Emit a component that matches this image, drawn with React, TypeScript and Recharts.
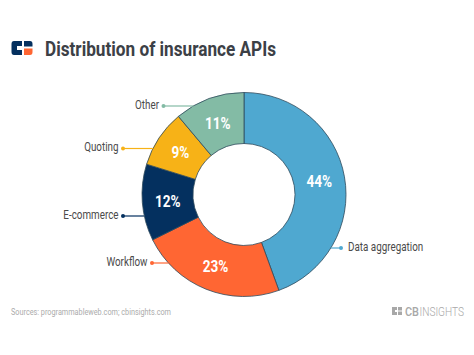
import { PieChart, Pie, Cell } from "recharts";

const categories = ["Data aggregation", "Workflow", "E-commerce", "Quoting", "Other"];
const shares = [44, 23, 12, 9, 11];
const colors = ["#4FA8D0", "#FF6633", "#04305F", "#F7B217", "#83BBA5"];

const tableData = categories.map((name, i) => ({ name, value: shares[i] }));

// height of each leader line, the source chart doesn't put them on the slice midpoint
const leaderY: Record<string, number> = {
  "Data aggregation": 248,
  Workflow: 263,
  "E-commerce": 216,
  Quoting: 148.5,
  Other: 106,
};
const leaderDot: Record<string, number> = {
  "Data aggregation": 341,
  Workflow: 152,
  "E-commerce": 123,
  Quoting: 123,
  Other: 163.5,
};

const CX = 244;
const CY = 194.5;
const OUTER = 102;
const INNER = 51;
const FONT = "Roboto, sans-serif";

function SliceLabel(props: any) {
  const { midAngle, name, value, index } = props;
  const rad = (midAngle * Math.PI) / 180;
  const r = (INNER + OUTER) / 2;
  const x = CX + r * Math.cos(rad);
  const y = CY - r * Math.sin(rad);

  const ly = leaderY[name];
  const dot = leaderDot[name];
  const dy = ly - CY;
  const edge = Math.sqrt(OUTER * OUTER - dy * dy);
  const rightSide = dot > CX;
  const lineEnd = rightSide ? CX + edge : CX - edge;
  const textX = rightSide ? dot + 7 : dot - 4.5;

  return (
    <g>
      <line x1={dot} y1={ly} x2={lineEnd} y2={ly} stroke={colors[index]} strokeWidth={1.2} />
      <circle cx={dot} cy={ly} r={2} fill={colors[index]} />
      <text
        transform={`translate(${textX} ${ly + 2.5}) scale(0.82 1)`}
        textAnchor={rightSide ? "start" : "end"}
        fontFamily={FONT}
        fontSize={12}
        fill="#4A4A4A"
      >
        {name}
      </text>
      <text
        transform={`translate(${x} ${y + 6}) scale(0.8 1)`}
        textAnchor="middle"
        fontFamily={FONT}
        fontWeight={700}
        fontSize={17}
        fill="#FFFFFF"
      >
        {value}%
      </text>
    </g>
  );
}

export default function App() {
  return (
    <div style={{ position: "fixed", left: 0, top: 0, width: 474, height: 355, background: "#fff" }}>
      <PieChart width={474} height={355} margin={{ top: 0, right: 0, bottom: 0, left: 0 }}>
        <Pie
          data={tableData}
          dataKey="value"
          nameKey="name"
          cx={CX}
          cy={CY}
          innerRadius={INNER}
          outerRadius={OUTER}
          startAngle={90}
          endAngle={-270}
          stroke="#2F4A5C"
          strokeWidth={0.8}
          label={SliceLabel}
          labelLine={false}
          isAnimationActive={false}
        >
          {tableData.map((d, i) => (
            <Cell key={d.name} fill={colors[i]} />
          ))}
        </Pie>
      </PieChart>

      <svg width={474} height={355} style={{ position: "absolute", left: 0, top: 0, pointerEvents: "none" }}>
        {/* header mark */}
        <path d="M14 41 H22 V46 H17 V50 H22 V55 H14 Q11.5 55 11.5 52 V44 Q11.5 41 14 41 Z" fill="#04305F" />
        <path d="M24 41 H30 Q32.5 41 32.5 44 V46.5 H24 Z" fill="#04305F" />
        <path d="M24 48.5 H32.5 V52 Q32.5 55 30 55 H24 Z" fill="#FF6633" />
        <text x={45} y={55.5} fontFamily={FONT} fontWeight={700} fontSize={21} fill="#3C4046" textLength={231} lengthAdjust="spacingAndGlyphs">
          Distribution of insurance APIs
        </text>

        {/* footer */}
        <text x={11} y={315} fontFamily={FONT} fontSize={9.5} fill="#ABABAB" textLength={160} lengthAdjust="spacingAndGlyphs">
          Sources: programmableweb.com; cbinsights.com
        </text>
        <path d="M392 307 H397 V310 H395 V312 H397 V315 H392 Z" fill="#A8A8A8" />
        <path d="M398 307 H402 V310.5 H398 Z M398 311.5 H402 V315 H398 Z" fill="#A8A8A8" />
        <text x={405} y={316} fontFamily={FONT} fontWeight={500} fontSize={12.5} fill="#A8A8A8" textLength={14} lengthAdjust="spacingAndGlyphs">
          CB
        </text>
        <text x={419.5} y={316} fontFamily={FONT} fontWeight={300} fontSize={12.5} fill="#A8A8A8" textLength={44.5} lengthAdjust="spacingAndGlyphs">
          INSIGHTS
        </text>
      </svg>
    </div>
  );
}
